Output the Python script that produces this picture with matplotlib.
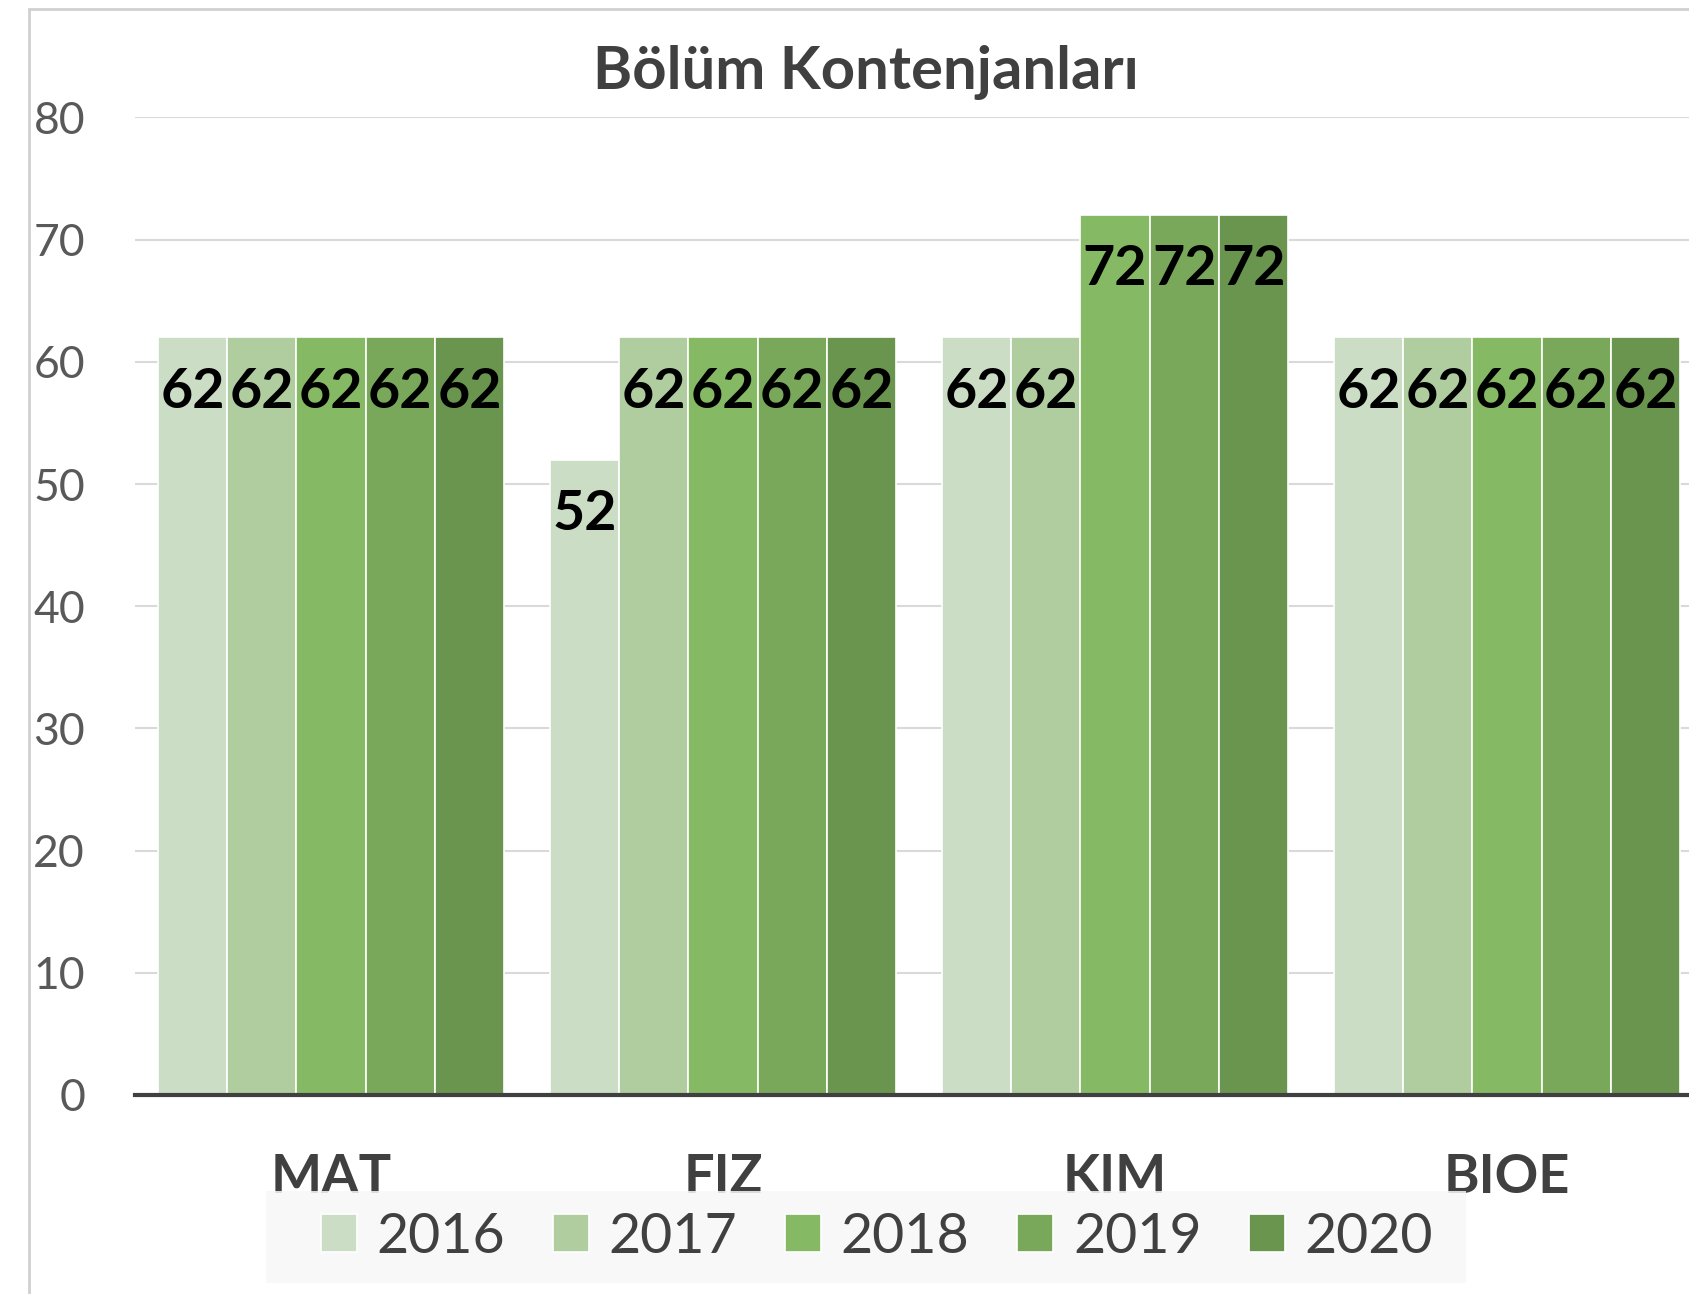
"""
Grouped bar chart of department quotas (Bölüm Kontenjanları), 2016-2020.
"""
import matplotlib
matplotlib.use('Agg')
import matplotlib.pyplot as plt
from matplotlib.patches import Rectangle
import numpy as np

# data
categories = ['MAT', 'FIZ', 'KIM', 'BIOE']
years = ['2016', '2017', '2018', '2019', '2020']
quota_2016 = [62, 52, 62, 62]
quota_2017 = [62, 62, 62, 62]
quota_2018 = [62, 62, 72, 62]
quota_2019 = [62, 62, 72, 62]
quota_2020 = [62, 62, 72, 62]
colors = ['#ccddc6', '#b0cda0', '#86b964', '#79a85a', '#6a954f']


def main():
    plt.rcParams['font.family'] = ['Lato', 'DejaVu Sans']
    series = [quota_2016, quota_2017, quota_2018, quota_2019, quota_2020]

    fig = plt.figure(figsize=(16.9, 12.94), dpi=100)
    ax = fig.add_axes([0.0799, 0.1538, 1 - 0.0799, 0.7554])

    x = np.arange(len(categories))
    width = 0.883 / len(series)
    for i, (vals, year) in enumerate(zip(series, years)):
        pos = x + (i - 2) * width
        ax.bar(pos, vals, width, color=colors[i], edgecolor='white',
               linewidth=1.2, label=year, zorder=2)
        for px, v in zip(pos, vals):
            ax.annotate(str(v), (px, v), xytext=(0, -39),
                        textcoords='offset points', ha='center',
                        va='center', fontsize=40, fontweight='bold',
                        color='black', zorder=3)

    ax.set_xlim(-0.5, 3.467)
    ax.set_ylim(0, 80)
    ax.set_yticks(range(0, 81, 10))
    ax.tick_params(axis='y', length=0, labelsize=32, labelcolor='#595959',
                   pad=36)
    ax.set_xticks(x)
    ax.set_xticklabels(categories, fontsize=39, fontweight='bold',
                       color='#404040')
    ax.tick_params(axis='x', length=0, pad=42)
    ax.grid(axis='y', color='#d9d9d9', linewidth=1.5, zorder=0)
    for s in ['top', 'right', 'left']:
        ax.spines[s].set_visible(False)
    ax.spines['bottom'].set_color('#404040')
    ax.spines['bottom'].set_linewidth(3)
    ax.spines['bottom'].set_zorder(4)

    fig.text(0.5124, 1 - 72 / 1294, 'Bölüm Kontenjanları', ha='center',
             va='center', fontsize=43, fontweight='bold', color='#404040')

    # chart area border (left and top edges visible)
    fig.add_artist(Rectangle((29 / 1690, -0.1), 1.2, 1.1 - 9 / 1294,
                             transform=fig.transFigure, fill=False,
                             edgecolor='#d0d0d0', linewidth=2))

    # legend background box
    fig.add_artist(Rectangle((266 / 1690, 11 / 1294), 1200 / 1690,
                             92 / 1294, transform=fig.transFigure,
                             facecolor='#f7f7f7', alpha=0.85,
                             edgecolor='none', zorder=5))
    leg = fig.legend(loc='center', bbox_to_anchor=(877 / 1690, 0.044),
                     ncol=5, fontsize=40, frameon=False,
                     handlelength=0.66, handleheight=0.66,
                     handletextpad=0.35, columnspacing=0.85,
                     borderpad=0.4)
    leg.set_zorder(6)
    for t in leg.get_texts():
        t.set_color('#404040')

    plt.savefig('out.png', dpi=100)


if __name__ == '__main__':
    main()
